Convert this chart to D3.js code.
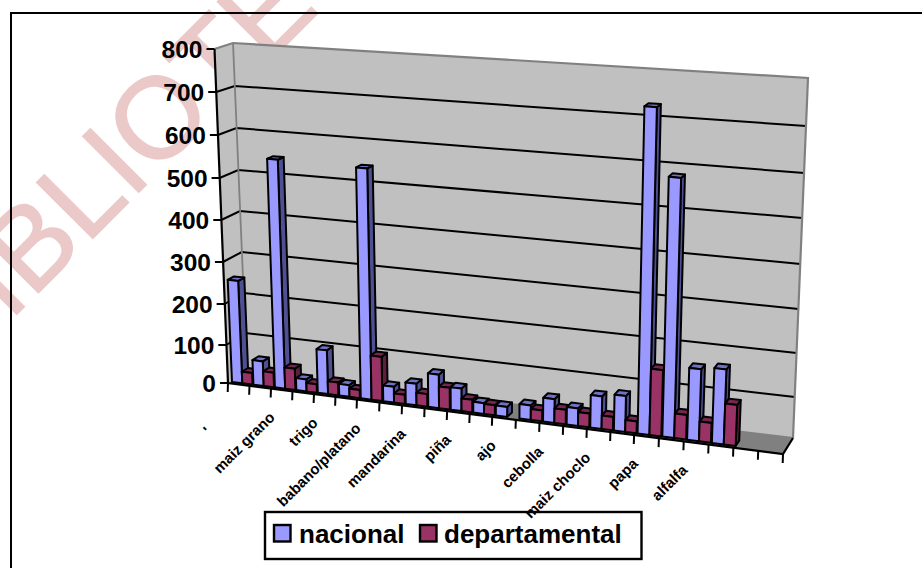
<!DOCTYPE html>
<html><head><meta charset="utf-8">
<style>html,body{margin:0;padding:0;background:#fff}svg{display:block}text{font-family:"Liberation Sans",Arial,sans-serif}</style>
<script src="https://cdnjs.cloudflare.com/ajax/libs/d3/7.8.5/d3.min.js"></script>
</head><body><svg id="c" width="922" height="568"></svg>
<script>
const blankPad="\u00a0\u00a0\u00a0\u00a0\u00a0\u00a0\u00a0";
const categories=["'"+blankPad,"","maiz grano","","trigo","","babano/platano","","mandarina","","piña","","ajo","","cebolla","","maiz choclo","","papa","","alfalfa",""];
const nacional=[255,64,552,31,112,30,550,40,55,85,57,27,25,36,59,43,80,88,737,590,170,176];
const departamental=[30,38,55,22,33,21,112,23,32,55,32,25,0,27,36,34,33,29,158,60,48,99];
const seriesNames=["nacional","departamental"];
const yTicks=[0,100,200,300,400,500,600,700,800];
const slotCount=24;

// Perspective calibration of the chart box, expressed as scales.
const flY=d3.scaleLinear().domain(yTicks).range([383,345,304,262,220,178,135,92,49]);
const flX=d3.scaleLinear().domain([0,800]).range([228,214.5]);
const blY=d3.scaleLinear().domain(yTicks).range([372,333,293,252,211,170,128,86,43]);
const blX=d3.scaleLinear().domain([0,800]).range([247,233]);
const brY=d3.scaleLinear().domain(yTicks).range([438,397,353,309,264,218,173,126,78]);
const brX=d3.scaleLinear().domain([0,800]).range([793,808]);
const frDY=d3.scaleLinear().domain([0,800]).range([16,10]);
const frX=d3.scaleLinear().domain([0,800]).range([783,798]);
const uS=d3.scaleLinear().domain([0,6,12,18,24]).range([0,.2323,.476,.7317,1]);
function P(t,d,v){
  const u=uS(t);
  const lx=flX(v)+(blX(v)-flX(v))*d, ly=flY(v)+(blY(v)-flY(v))*d;
  const rx=frX(v)+(brX(v)-frX(v))*d, ry=brY(v)+frDY(v)*(1-d);
  return [lx+(rx-lx)*u, ly+(ry-ly)*u];
}
const svg=d3.select("#c");
const line=pts=>"M"+pts.map(p=>p.join(",")).join("L");
const poly=pts=>line(pts)+"Z";

// watermark
svg.append("text").text("BIBLIOTECA").attr("transform","translate(-45,376) rotate(-45)")
  .attr("font-size",115).attr("fill","#ebc9c9").attr("stroke","#ebc9c9").attr("stroke-width",1.5);

// frame
svg.append("path").attr("d","M11,568V13H922").attr("fill","none").attr("stroke","#000").attr("stroke-width",2);

// walls and floor
const grey="#c0c0c0", edge="#808080";
svg.append("path").attr("d",poly([P(0,1,0),P(24,1,0),P(24,1,800),P(0,1,800)])).attr("fill",grey);
svg.append("path").attr("d",poly([P(0,0,0),P(0,1,0),P(0,1,800),P(0,0,800)])).attr("fill",grey);
svg.append("path").attr("d",poly([P(0,0,0),P(24,0,0),P(24,1,0),P(0,1,0)])).attr("fill",edge);

// gridlines
yTicks.slice(1,-1).forEach(v=>{
  svg.append("path").attr("d",line([P(0,0,v),P(0,1,v),P(24,1,v)])).attr("fill","none").attr("stroke","#000").attr("stroke-width",2);
});
// wall edges
svg.append("path").attr("d",line([P(0,0,800),P(0,1,800),P(24,1,800),P(24,1,0)])).attr("fill","none").attr("stroke",edge).attr("stroke-width",2.2);
svg.append("path").attr("d",line([P(0,1,800),P(0,1,0),P(24,1,0)])).attr("fill","none").attr("stroke",edge).attr("stroke-width",1.8);
svg.append("path").attr("d",line([P(0,0,800),P(0,0,0),P(24,0,0),P(24,1,0)])).attr("fill","none").attr("stroke","#000").attr("stroke-width",2.2);

// y ticks + labels
yTicks.forEach(v=>{
  const p=P(0,0,v);
  svg.append("line").attr("x1",p[0]-8).attr("x2",p[0]).attr("y1",p[1]).attr("y2",p[1]).attr("stroke","#000").attr("stroke-width",2);
  svg.append("text").text(v).attr("x",p[0]-12).attr("y",p[1]+9).attr("text-anchor","end")
    .attr("font-size",24.5).attr("font-weight","bold").attr("fill","#000");
});
// x ticks
d3.range(slotCount+1).forEach(t=>{
  const p=P(t,0,0);
  svg.append("line").attr("x1",p[0]).attr("x2",p[0]-.3).attr("y1",p[1]).attr("y2",p[1]+9).attr("stroke","#000").attr("stroke-width",2);
});

// bars
const colors=[{f:"#9999ff",s:"#4f4f94",t:"#7070c4"},{f:"#993366",s:"#5e1f3f",t:"#74264d"}];
const slots=[[.08,.56],[.56,1.04]];
const d0=.12,d1=.45;
const bars=svg.append("g").attr("stroke","#000").attr("stroke-width",2).attr("stroke-linejoin","round");
categories.forEach((c,i)=>{
  [nacional[i],departamental[i]].forEach((v,k)=>{
    if(!v) return;
    const a=i+slots[k][0], b=i+slots[k][1], col=colors[k];
    bars.append("path").attr("d",poly([P(b,d0,0),P(b,d1,0),P(b,d1,v),P(b,d0,v)])).attr("fill",col.s);
    bars.append("path").attr("d",poly([P(a,d0,v),P(b,d0,v),P(b,d1,v),P(a,d1,v)])).attr("fill",col.t);
    bars.append("path").attr("d",poly([P(a,d0,0),P(b,d0,0),P(b,d0,v),P(a,d0,v)])).attr("fill",col.f);
  });
});

// legend
const lg=svg.append("g");
lg.append("rect").attr("x",265).attr("y",512).attr("width",376.5).attr("height",47).attr("fill","#fff").attr("stroke","#000").attr("stroke-width",2.4);
[[273,299],[419,444]].forEach((pos,k)=>{
  lg.append("rect").attr("x",pos[0]+1).attr("y",525).attr("width",16.5).attr("height",16.5).attr("fill",colors[k].f).attr("stroke","#000").attr("stroke-width",2.4);
  lg.append("text").text(seriesNames[k]).attr("x",pos[1]).attr("y",543).attr("font-size",26).attr("font-weight","bold").attr("fill","#000");
});

// x labels (drawn over the legend, as in the source)
categories.forEach((c,i)=>{
  if(!c) return;
  const p=P(i,0,0);
  svg.append("text").text(c).attr("transform",`translate(${p[0]+1},${p[1]+26}) rotate(-45)`)
    .attr("text-anchor","end").attr("dy","0.35em").attr("font-size",15).attr("font-weight","bold").attr("fill","#000");
});
</script></body></html>
